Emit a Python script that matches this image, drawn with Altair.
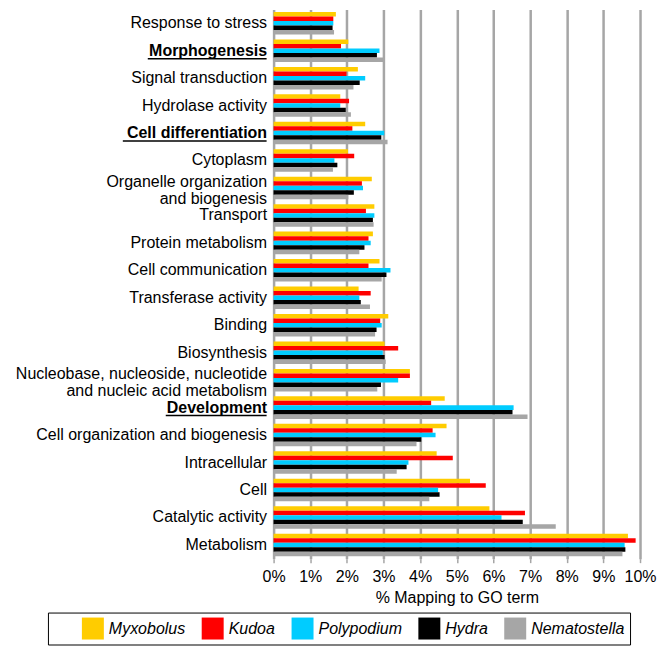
import altair as alt
import pandas as pd

categories = [
    "Response to stress", "Morphogenesis", "Signal transduction", "Hydrolase activity",
    "Cell differentiation", "Cytoplasm", "Organelle organization\nand biogenesis", "Transport",
    "Protein metabolism", "Cell communication", "Transferase activity", "Binding",
    "Biosynthesis", "Nucleobase, nucleoside, nucleotide\nand nucleic acid metabolism",
    "Development", "Cell organization and biogenesis", "Intracellular", "Cell",
    "Catalytic activity", "Metabolism",
]
series = ["Myxobolus", "Kudoa", "Polypodium", "Hydra", "Nematostella"]

myxobolus = [1.70, 2.04, 2.30, 1.82, 2.50, 2.03, 2.68, 2.75, 2.71, 2.89, 2.32, 3.13, 3.03, 3.72, 4.67, 4.72, 4.45, 5.36, 5.89, 9.67]
kudoa = [1.63, 1.84, 1.99, 2.06, 2.15, 2.20, 2.41, 2.52, 2.59, 2.59, 2.65, 2.91, 3.40, 3.72, 4.30, 4.34, 4.89, 5.79, 6.86, 9.88]
polypodium = [1.63, 2.89, 2.50, 1.82, 3.02, 1.66, 2.44, 2.75, 2.65, 3.19, 2.34, 2.95, 2.98, 3.40, 6.55, 4.42, 3.68, 4.49, 6.22, 9.58]
hydra = [1.61, 2.82, 2.35, 1.97, 2.94, 1.74, 2.19, 2.71, 2.48, 3.08, 2.38, 2.81, 3.03, 2.93, 6.52, 4.03, 3.63, 4.53, 6.80, 9.60]
nematostella = [1.65, 3.00, 2.18, 2.11, 3.11, 1.62, 2.04, 2.73, 2.34, 2.95, 2.63, 2.77, 3.06, 2.83, 6.93, 3.90, 3.36, 4.25, 7.70, 9.52]

x_ticks = list(range(0, 11))
bold_terms = ["Morphogenesis", "Cell differentiation", "Development"]

# styling
colors = ["#FFCC00", "#FF0000", "#00CCFF", "#000000", "#A6A6A6"]
underline_len = {"Morphogenesis": 119, "Cell differentiation": 144, "Development": 101}
FONT = "Liberation Sans"

values_by_series = [myxobolus, kudoa, polypodium, hydra, nematostella]
rows = []
for s, vals in zip(series, values_by_series):
    for c, v in zip(categories, vals):
        rows.append({"category": c, "series": s, "value": v})
df = pd.DataFrame(rows)

bold_list = ", ".join("'" + t + "'" for t in bold_terms)

y_enc = alt.Y(
    "category:N",
    scale=alt.Scale(domain=categories, paddingInner=0.18, paddingOuter=0.09),
    axis=alt.Axis(
        title=None,
        labelExpr="split(datum.label, '\\n')",
        labelFontSize=16,
        labelFontWeight={"expr": "indexof([" + bold_list + "], datum.value) >= 0 ? 'bold' : 'normal'"},
        labelOffset={"expr": "indexof(datum.value, '\\n') >= 0 ? -6 : 0"},
        labelColor="black",
        labelLineHeight=17,
        labelPadding=7,
        labelLimit=400,
        labelOverlap=False,
        ticks=False,
        domain=False,
        grid=False,
        minExtent=266,
        maxExtent=266,
    ),
)

bars = alt.Chart(df).mark_bar().encode(
    x=alt.X(
        "value:Q",
        scale=alt.Scale(domain=[0, 10], nice=False),
        axis=alt.Axis(
            values=x_ticks,
            labelExpr="datum.value + '%'",
            labelOverlap=False,
            labelFlush=False,
            title="% Mapping to GO term",
            grid=True,
            gridColor="#A6A6A6",
            gridWidth=2.5,
            domain=False,
            tickColor="#A6A6A6",
            tickSize=4,
            tickWidth=1.5,
            labelFontSize=16,
            labelColor="black",
            labelPadding=6,
            titleFontSize=16,
            titleFontWeight="normal",
            titleColor="black",
            titlePadding=5,
        ),
    ),
    y=y_enc,
    yOffset=alt.YOffset("series:N", scale=alt.Scale(domain=series)),
    color=alt.Color(
        "series:N",
        scale=alt.Scale(domain=series, range=colors),
        legend=alt.Legend(
            orient="none",
            legendX=-226,
            legendY=604,
            direction="horizontal",
            columns=5,
            title=" ",
            titleOrient="left",
            titlePadding=29,
            titleFontSize=16,
            symbolType="square",
            symbolSize=484,
            symbolStrokeWidth=0,
            symbolOpacity=1,
            labelFontSize=16,
            labelFontStyle="italic",
            labelColor="black",
            labelOffset=5,
            labelLimit=200,
            columnPadding=16,
            padding=5,
            strokeColor="black",
            fillColor="white",
        ),
    ),
)

layers = [bars]
for term in bold_terms:
    w = underline_len[term]
    layers.append(
        alt.Chart(pd.DataFrame({"category": [term]}))
        .mark_rule(color="black", strokeWidth=1.5, yOffset=8)
        .encode(y=y_enc, x=alt.value(-7 - w), x2=alt.value(-7))
    )

chart = (
    alt.layer(*layers)
    .properties(width=367, height=550, padding={"top": 1, "left": 0, "right": 0, "bottom": 0})
    .configure(font=FONT)
    .configure_view(stroke=None)
)

chart.save("out.html", embed_options={"renderer": "svg", "actions": False})
